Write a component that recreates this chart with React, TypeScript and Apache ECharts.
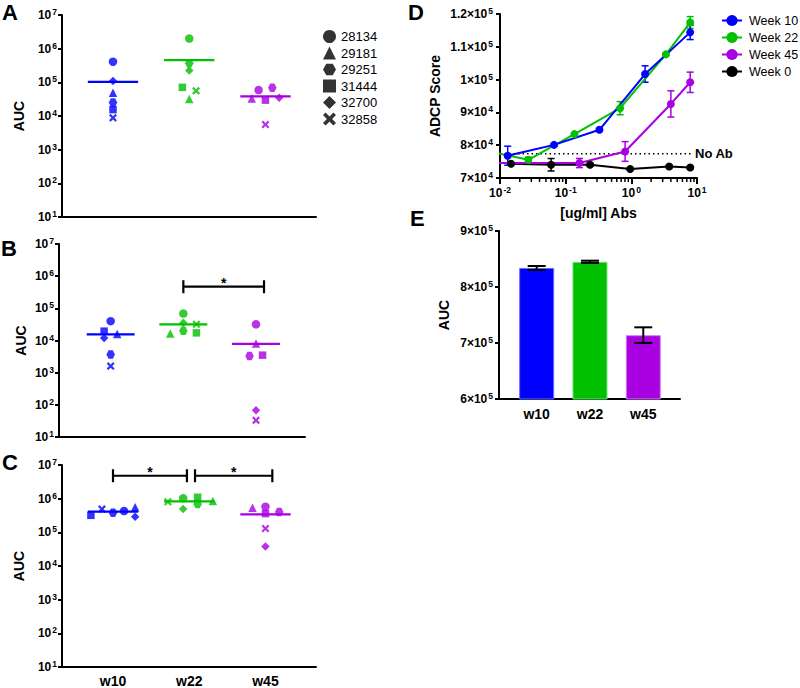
import React, { useEffect, useRef } from 'react';
import * as echarts from 'echarts';

const FONT = "'Liberation Sans', Arial, Helvetica, sans-serif";

const weeks = ['w10', 'w22', 'w45'];
const weekColors = ['#0000ff', '#00c000', '#a800e0'];
const subjects = ['28134', '29181', '29251', '31444', '32700', '32858'];

// AUC per week (rows: w10, w22, w45) and subject (columns in the order of `subjects`)
const aucA = [
  [4.1e5, 4.9e4, 2.5e4, 1.55e4, 1.1e5, 8.8e3],
  [2.0e6, 3.2e4, 3.7e5, 7.1e4, 2.26e5, 5.6e4],
  [5.9e4, 3.3e4, 6.9e4, 2.95e4, 3.5e4, 5.6e3],
];
const jitterA = [
  [0, 0, 0, 0, 0, 0],
  [0, 0, 0, -0.09, 0, 0.09],
  [-0.09, -0.18, 0.09, 0, 0.18, 0],
];
const aucB = [
  [4.0e4, 1.58e4, 3.7e3, 1.95e4, 1.2e4, 1.6e3],
  [6.9e4, 1.66e4, 2.0e4, 1.73e4, 3.55e4, 3.2e4],
  [3.2e4, 8.1e3, 3.3e3, 3.5e3, 68, 33],
];
const jitterB = [
  [0, 0.09, 0, -0.09, -0.09, 0],
  [0, -0.18, 0, 0.18, 0, 0.18],
  [0, 0, -0.09, 0.09, 0, 0],
];
const aucC = [
  [4.3e5, 5.6e5, 3.8e5, 3.2e5, 2.9e5, 4.9e5],
  [1.03e6, 8.5e5, 6.9e5, 1.1e6, 4.9e5, 8.1e5],
  [5.8e5, 5.4e5, 4.0e5, 3.6e5, 3.8e4, 1.3e5],
];
const jitterC = [
  [0.145, 0.29, 0, -0.29, 0.29, -0.145],
  [-0.08, 0.31, 0.11, 0.11, -0.08, -0.28],
  [0, -0.17, 0.18, 0, 0, 0],
];
// significance brackets: [from, to, level]
const sigB = [[1, 2.11, 4.7e5]];
const sigC = [[0, 0.97, 4.8e6], [1.076, 2.09, 4.8e6]];

// Panel D: ADCP score vs concentration
const weekNamesD = ['Week 10', 'Week 22', 'Week 45', 'Week 0'];
const colorsD = ['#0000ff', '#00c000', '#a800e0', '#000000'];
const concW10 = [0.0131, 0.0665, 0.327, 1.62, 7.87];
const adcpW10 = [76800, 80100, 84700, 101700, 114400];
const semW10 = [2900, 400, 400, 2500, 2200];
const concW22 = [0.0054, 0.027, 0.136, 0.675, 3.36, 7.87];
const adcpW22 = [78500, 75560, 83370, 91280, 107700, 117400];
const semW22 = [0, 800, 400, 2000, 400, 1800];
const concW45 = [0.0065, 0.162, 0.804, 4.0, 7.87];
const adcpW45 = [74560, 74560, 78090, 92580, 99180];
const semW45 = [0, 1400, 3000, 4000, 3100];
const concW0 = [0.0147, 0.06, 0.235, 0.96, 3.77, 7.87];
const adcpW0 = [74350, 74040, 74040, 72740, 73530, 73220];
const semW0 = [300, 1900, 400, 300, 300, 300];
const noAbLevel = 77400;
const noAbRange = [0.01, 8.4];

// Panel E: AUC bars
const aucE = [8.34e5, 8.45e5, 7.14e5];
const semE = [3.5e3, 2e3, 1.4e4];

const HEX = 'path://M2,0 L6,0 L8,3.46 L6,6.93 L2,6.93 L0,3.46 Z';
const CROSS = 'path://M0,2 L3,5 L0,8 L2,10 L5,7 L8,10 L10,8 L7,5 L10,2 L8,0 L5,3 L2,0 Z';
const shapes = ['circle', 'triangle', HEX, 'rect', 'diamond', CROSS];
const shapeSizes = [8.5, 8.5, 8.5, 7.5, 8.5, 8];

const sup = (base: string, exp: string) => `{b|${base}}{s|${exp}}`;
const rich = {
  b: { fontSize: 12, fontWeight: 'bold', fontFamily: FONT, color: '#000', lineHeight: 15 },
  s: { fontSize: 8.5, fontWeight: 'bold', fontFamily: FONT, color: '#000', verticalAlign: 'top', lineHeight: 9, padding: [0, 0, 0, 1] },
};
const logFmt = (v: number) => sup('10', String(Math.round(Math.log10(v))));

const axisLine = { show: true, onZero: false, lineStyle: { color: '#000', width: 2 } };
const axisTick = { show: true, length: 4, lineStyle: { color: '#000', width: 2 } };

const mean = (arr: number[]) => arr.reduce((a, b) => a + b, 0) / arr.length;

export default function App() {
  const ref = useRef<HTMLDivElement>(null);
  useEffect(() => {
    if (!ref.current) return;
    const chart = echarts.init(ref.current, null, { renderer: 'svg' });

    const grids = [
      { left: 62, top: 15, width: 254, height: 202 },
      { left: 59, top: 244, width: 246, height: 193 },
      { left: 62, top: 465, width: 254, height: 202 },
      { left: 500, top: 14, width: 197, height: 164 },
      { left: 499, top: 231, width: 181, height: 168 },
    ];

    const catLabel = {
      show: true,
      customValues: [0, 1, 2],
      formatter: (v: number) => (Number.isInteger(v) ? weeks[v] : ''),
      fontSize: 14,
      fontWeight: 'bold',
      fontFamily: FONT,
      color: '#000',
      margin: 7,
    };

    const xAxes: any[] = [
      { gridIndex: 0, type: 'value', min: -0.669, max: 2.663, axisLine, axisTick: { show: false }, axisLabel: { show: false }, splitLine: { show: false } },
      { gridIndex: 1, type: 'value', min: -0.711, max: 2.674, axisLine, axisTick: { show: false }, axisLabel: { show: false }, splitLine: { show: false } },
      { gridIndex: 2, type: 'value', min: -0.669, max: 2.663, axisLine, axisTick: { show: false }, axisLabel: catLabel, splitLine: { show: false } },
      {
        gridIndex: 3, type: 'log', logBase: 10, min: 0.01, max: 10, axisLine,
        axisTick: { show: true, length: 6, lineStyle: { color: '#000', width: 2 } },
        axisLabel: { formatter: logFmt, rich, margin: 7 },
        splitLine: { show: false },
        name: '[ug/ml] Abs', nameLocation: 'middle', nameGap: 28,
        nameTextStyle: { fontSize: 14, fontWeight: 'bold', fontFamily: FONT, color: '#000' },
      },
      { gridIndex: 4, type: 'value', min: -0.707, max: 2.689, axisLine, axisTick: { show: false }, axisLabel: { ...catLabel, margin: 8 }, splitLine: { show: false } },
    ];

    const aucName = (gap: number) => ({
      name: 'AUC', nameLocation: 'middle', nameGap: gap,
      nameTextStyle: { fontSize: 14, fontWeight: 'bold', fontFamily: FONT, color: '#000' },
    });

    const yLog = (gi: number, gap: number) => ({
      gridIndex: gi, type: 'log', logBase: 10, min: 10, max: 1e7, splitNumber: 6,
      axisLine, axisTick, splitLine: { show: false },
      axisLabel: { formatter: logFmt, rich, margin: 5 },
      ...aucName(gap),
    });

    const yAxes: any[] = [
      yLog(0, 36),
      yLog(1, 31),
      yLog(2, 36),
      {
        gridIndex: 3, type: 'value', min: 70000, max: 120000, interval: 10000,
        axisLine, axisTick, splitLine: { show: false },
        axisLabel: {
          rich, margin: 7,
          formatter: (v: number) => (v < 1e5 ? sup(`${Math.round(v / 1e4)}×10`, '4') : sup(`${+(v / 1e5).toFixed(1)}×10`, '5')),
        },
        name: 'ADCP Score', nameLocation: 'middle', nameGap: 58,
        nameTextStyle: { fontSize: 14, fontWeight: 'bold', fontFamily: FONT, color: '#000' },
      },
      {
        gridIndex: 4, type: 'value', min: 600000, max: 900000, interval: 100000,
        axisLine, axisTick, splitLine: { show: false },
        axisLabel: { rich, margin: 6, formatter: (v: number) => sup(`${Math.round(v / 1e5)}×10`, '5') },
        ...aucName(48),
      },
    ];

    const series: any[] = [];
    const panels = [
      { vals: aucA, jit: jitterA },
      { vals: aucB, jit: jitterB },
      { vals: aucC, jit: jitterC },
    ];
    panels.forEach((p, pi) => {
      series.push({
        type: 'custom', name: 'mean' + pi, xAxisIndex: pi, yAxisIndex: pi, z: 1,
        data: weeks.map((_, w) => [w, mean(p.vals[w])]),
        renderItem: (params: any, api: any) => {
          const x = api.value(0), y = api.value(1);
          const p1 = api.coord([x - 0.33, y]);
          const p2 = api.coord([x + 0.33, y]);
          return { type: 'line', shape: { x1: p1[0], y1: p1[1], x2: p2[0], y2: p2[1] }, style: { stroke: weekColors[x], lineWidth: 2.2 } };
        },
      });
      subjects.forEach((s, si) => {
        series.push({
          type: 'scatter', name: s, xAxisIndex: pi, yAxisIndex: pi, z: 3,
          symbol: shapes[si], symbolSize: shapeSizes[si],
          data: weeks.map((_, w) => ({ value: [w + p.jit[w][si], p.vals[w][si]], itemStyle: { color: weekColors[w] } })),
        });
      });
    });

    const sigRender = (params: any, api: any) => {
      const a = api.coord([api.value(0), api.value(2)]);
      const b = api.coord([api.value(1), api.value(2)]);
      const st = { stroke: '#000', lineWidth: 2.2 };
      return {
        type: 'group',
        children: [
          { type: 'line', shape: { x1: a[0], y1: a[1], x2: b[0], y2: b[1] }, style: st },
          { type: 'line', shape: { x1: a[0], y1: a[1] - 6.5, x2: a[0], y2: a[1] + 6.5 }, style: st },
          { type: 'line', shape: { x1: b[0], y1: b[1] - 6.5, x2: b[0], y2: b[1] + 6.5 }, style: st },
          { type: 'text', x: (a[0] + b[0]) / 2, y: a[1] - 4, style: { text: '*', fontSize: 14, fontWeight: 'bold', fontFamily: FONT, fill: '#000', align: 'center', verticalAlign: 'middle' } },
        ],
      };
    };
    series.push({ type: 'custom', name: 'sigB', xAxisIndex: 1, yAxisIndex: 1, encode: { x: [0, 1], y: 2 }, data: sigB, renderItem: sigRender });
    series.push({ type: 'custom', name: 'sigC', xAxisIndex: 2, yAxisIndex: 2, encode: { x: [0, 1], y: 2 }, data: sigC, renderItem: sigRender });

    // Panel D
    const dSets = [
      { conc: concW10, v: adcpW10, e: semW10 },
      { conc: concW22, v: adcpW22, e: semW22 },
      { conc: concW45, v: adcpW45, e: semW45 },
      { conc: concW0, v: adcpW0, e: semW0 },
    ];
    const errRender = (color: string, cap: number, lw: number) => (params: any, api: any) => {
      const x = api.value(0), y = api.value(1), e = api.value(2);
      if (!e) return null;
      const t = api.coord([x, y + e]);
      const b = api.coord([x, y - e]);
      const st = { stroke: color, lineWidth: lw };
      return {
        type: 'group',
        children: [
          { type: 'line', shape: { x1: t[0], y1: t[1], x2: b[0], y2: b[1] }, style: st },
          { type: 'line', shape: { x1: t[0] - cap, y1: t[1], x2: t[0] + cap, y2: t[1] }, style: st },
          { type: 'line', shape: { x1: b[0] - cap, y1: b[1], x2: b[0] + cap, y2: b[1] }, style: st },
        ],
      };
    };
    series.push({
      type: 'line', name: 'No Ab', xAxisIndex: 3, yAxisIndex: 3, showSymbol: false, symbol: 'none', z: 1,
      data: noAbRange.map((c) => [c, noAbLevel]),
      lineStyle: { color: '#000', width: 1.5, type: [1.5, 3] },
      itemStyle: { color: '#000' },
      endLabel: { show: true, formatter: 'No Ab', fontSize: 13, fontWeight: 'bold', fontFamily: FONT, color: '#000', distance: 3 },
    });
    [3, 2, 1, 0].forEach((i) => {
      const d = dSets[i];
      series.push({
        type: 'custom', name: weekNamesD[i] + ' err', xAxisIndex: 3, yAxisIndex: 3, z: 2, clip: true,
        data: d.conc.map((c, k) => [c, d.v[k], d.e[k]]),
        renderItem: errRender(colorsD[i], 3.5, 1.5),
      });
      series.push({
        type: 'line', name: weekNamesD[i], xAxisIndex: 3, yAxisIndex: 3, z: 3, clip: true,
        symbol: 'circle', symbolSize: 8, showSymbol: true,
        data: d.conc.map((c, k) => [c, d.v[k]]),
        lineStyle: { color: colorsD[i], width: 2 },
        itemStyle: { color: colorsD[i] },
      });
    });
    // log minor ticks on D x-axis
    const minorTicksD: number[] = [];
    [0.01, 0.1, 1].forEach((dec) => { for (let k = 2; k <= 9; k++) minorTicksD.push(+(dec * k).toPrecision(3)); });
    series.push({
      type: 'custom', name: 'minor', xAxisIndex: 3, yAxisIndex: 3, clip: false, silent: true,
      data: minorTicksD.map((v) => [v, 70000]),
      renderItem: (params: any, api: any) => {
        const p = api.coord([api.value(0), api.value(1)]);
        return { type: 'line', shape: { x1: p[0], y1: p[1], x2: p[0], y2: p[1] + 4 }, style: { stroke: '#000', lineWidth: 1.5 } };
      },
    });

    // Panel E
    series.push({
      type: 'bar', name: 'E', xAxisIndex: 4, yAxisIndex: 4, barWidth: 35, z: 2,
      data: aucE.map((v, i) => ({ value: [i, v], itemStyle: { color: weekColors[i], borderColor: ['#6a6aff', '#70e070', '#d080f0'][i], borderWidth: 1 } })),
    });
    series.push({
      type: 'custom', name: 'E err', xAxisIndex: 4, yAxisIndex: 4, z: 3,
      data: aucE.map((v, i) => [i, v, semE[i]]),
      renderItem: errRender('#000', 9, 2),
    });

    const letter = (t: string, x: number, y: number) => ({
      type: 'text', x, y,
      style: { text: t, fontSize: 22, fontWeight: 'bold', fontFamily: FONT, fill: '#000', align: 'left', verticalAlign: 'middle' },
    });

    chart.setOption({
      animation: false,
      backgroundColor: '#fff',
      textStyle: { fontFamily: FONT },
      grid: grids,
      xAxis: xAxes,
      yAxis: yAxes,
      legend: [
        {
          orient: 'vertical', left: 318, top: 25, itemWidth: 13, itemHeight: 13, itemGap: 3.5, selectedMode: false,
          data: subjects.map((s, i) => ({ name: s, icon: shapes[i], itemStyle: { color: '#000' } })),
          textStyle: { fontSize: 13, fontFamily: FONT, color: '#000' },
        },
        {
          orient: 'vertical', left: 716, top: 9, itemWidth: 20, itemHeight: 14, itemGap: 4, selectedMode: false,
          data: weekNamesD,
          textStyle: { fontSize: 12.5, fontFamily: FONT, color: '#000', padding: [0, 0, 0, 2] },
        },
      ],
      graphic: [letter('A', 2, 12), letter('B', 1, 248), letter('C', 2, 462.5), letter('D', 408, 12), letter('E', 410, 218)],
      series,
    });
    return () => chart.dispose();
  }, []);
  return <div ref={ref} style={{ position: 'absolute', left: 0, top: 0, width: 800, height: 688 }} />;
}
